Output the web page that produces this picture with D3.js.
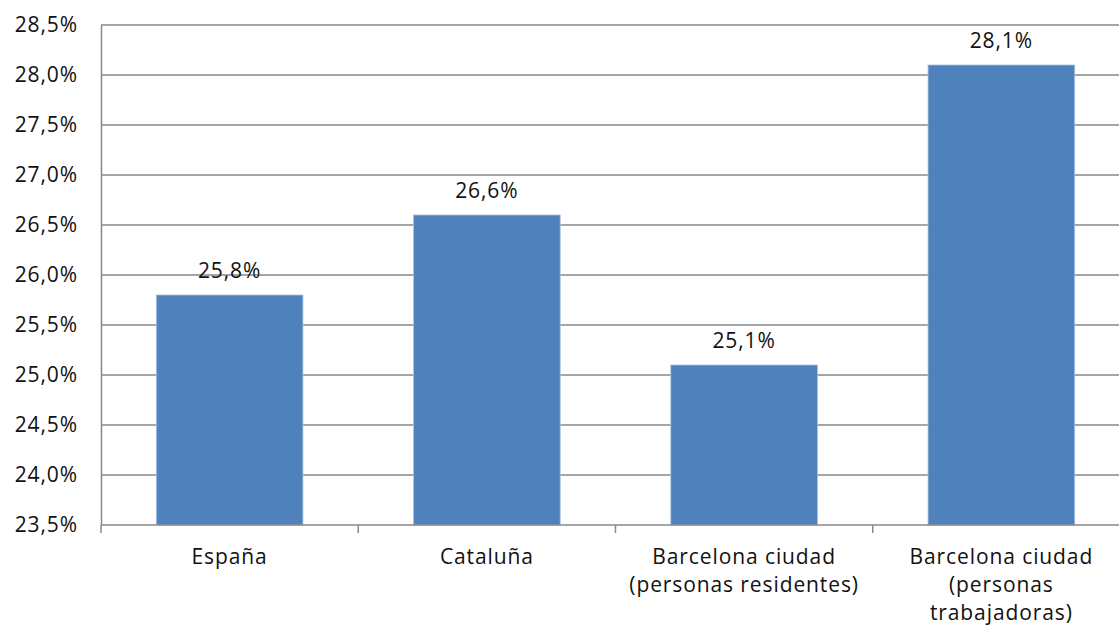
<!DOCTYPE html>
<html>
<head>
<meta charset="utf-8">
<script src="https://cdn.jsdelivr.net/npm/d3@7"></script>
<style>
  html, body { margin: 0; padding: 0; background: #fff; }
  svg { display: block; font-family: "Open Sans", "DejaVu Sans", sans-serif; }
  svg text { letter-spacing: 0.9px; }
</style>
</head>
<body>
<svg id="chart" width="1119" height="628"></svg>
<script>
// Categories (multi-line axis labels) and their values in %
const categories = [
  "España",
  "Cataluña",
  "Barcelona ciudad\n(personas residentes)",
  "Barcelona ciudad\n(personas\ntrabajadoras)"
];
const values = [25.8, 26.6, 25.1, 28.1];
const yTicks = [23.5, 24.0, 24.5, 25.0, 25.5, 26.0, 26.5, 27.0, 27.5, 28.0, 28.5];

const fmt = v => v.toFixed(1).replace(".", ",") + "%";

const svg = d3.select("#chart");
const margin = { left: 101, top: 25, bottom: 525 };
const plotRight = 1130;
const fontSize = 21;
const fontFamily = "'Open Sans', 'DejaVu Sans', sans-serif";
const textColor = "#111";

const x = d3.scaleBand()
  .domain(categories)
  .range([margin.left, plotRight])
  .paddingInner(0)
  .paddingOuter(0);

const y = d3.scaleLinear()
  .domain([23.5, 28.5])
  .range([margin.bottom, margin.top]);

const gridColor = "#898989";
const barColor = "#4f81bd";
const barFrac = 0.57;

// Horizontal gridlines
svg.append("g")
  .selectAll("line")
  .data(yTicks.slice(1))
  .join("line")
  .attr("x1", margin.left)
  .attr("x2", plotRight)
  .attr("y1", d => y(d))
  .attr("y2", d => y(d))
  .attr("stroke", gridColor)
  .attr("stroke-width", 1.5);

// Bars
const bw = x.bandwidth() * barFrac;
svg.append("g")
  .selectAll("rect")
  .data(values)
  .join("rect")
  .attr("x", (d, i) => x(categories[i]) + (x.bandwidth() - bw) / 2)
  .attr("y", d => y(d))
  .attr("width", bw)
  .attr("height", d => y(23.5) - y(d))
  .attr("fill", barColor)
  .attr("stroke", "#a9c1e0")
  .attr("stroke-width", 0.8);

// Value labels above bars
svg.append("g")
  .selectAll("text")
  .data(values)
  .join("text")
  .attr("x", (d, i) => x(categories[i]) + x.bandwidth() / 2)
  .attr("y", d => y(d) - 17)
  .attr("text-anchor", "middle")
  .attr("font-size", fontSize)
  .attr("fill", textColor)
  .text(d => fmt(d));

// Y axis
const yAxis = svg.append("g")
  .attr("transform", `translate(${margin.left},0)`)
  .call(d3.axisLeft(y).tickValues(yTicks).tickSize(0).tickPadding(23).tickFormat(fmt));
yAxis.select(".domain").attr("stroke", gridColor).attr("stroke-width", 1.5);
yAxis.selectAll("text").attr("font-size", fontSize).attr("fill", textColor)
  .attr("font-family", fontFamily);

// X axis with ticks at category boundaries
const boundaries = categories.map(c => x(c)).concat([plotRight]);
svg.append("line")
  .attr("x1", margin.left).attr("x2", plotRight)
  .attr("y1", y(23.5)).attr("y2", y(23.5))
  .attr("stroke", gridColor).attr("stroke-width", 1.5);
svg.append("g")
  .selectAll("line")
  .data(boundaries)
  .join("line")
  .attr("x1", d => d).attr("x2", d => d)
  .attr("y1", y(23.5)).attr("y2", y(23.5) + 8)
  .attr("stroke", gridColor).attr("stroke-width", 1.5);

// Category labels
const catG = svg.append("g");
categories.forEach(c => {
  const t = catG.append("text")
    .attr("x", x(c) + x.bandwidth() / 2)
    .attr("y", 564)
    .attr("text-anchor", "middle")
    .attr("font-size", fontSize)
    .attr("fill", textColor);
  c.split("\n").forEach((line, k) => {
    t.append("tspan")
      .attr("x", x(c) + x.bandwidth() / 2)
      .attr("dy", k === 0 ? 0 : 28)
      .text(line);
  });
});
</script>
</body>
</html>
